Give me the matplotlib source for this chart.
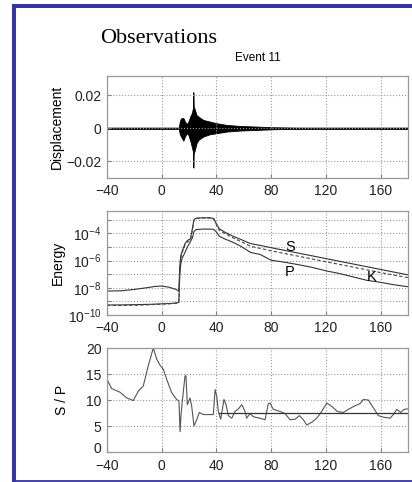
import matplotlib
matplotlib.use("Agg")
import matplotlib.pyplot as plt
import matplotlib.transforms as mtransforms
from matplotlib.lines import Line2D
import numpy as np

plt.rcParams['font.family'] = ['Liberation Sans', 'DejaVu Sans']
plt.rcParams['mathtext.default'] = 'regular'

# displacement trace, read as an envelope (time in s, upper / lower amplitude)
disp_t = [-40, 12.5, 13.2, 14, 15.8, 17, 18.2, 19.5, 21, 21.9, 22.8, 23.1, 23.4,
          23.9, 25.5, 27, 30.4, 35.3, 40.2, 47.5, 57.2, 69.4, 81.6, 100, 180]
disp_hi = [0.0004, 0.0004, 0.004, 0.0059, 0.0062, 0.004, 0.0025, 0.004, 0.0075, 0.0089,
           0.012, 0.0218, 0.013, 0.012, 0.0079, 0.0069, 0.005, 0.004, 0.003, 0.002,
           0.0014, 0.001, 0.0006, 0.0004, 0.0004]
disp_lo = [-0.0004, -0.0004, -0.0035, -0.0049, -0.0075, -0.005, -0.003, -0.004, -0.008,
           -0.011, -0.014, -0.0237, -0.015, -0.014, -0.0089, -0.0069, -0.005, -0.0036,
           -0.003, -0.002, -0.0014, -0.001, -0.0006, -0.0004, -0.0004]

# energy curves, log10 values
energy_t = [-40, -30, -20, -10, -5, 0, 5, 10, 12.5, 13.2, 14, 15, 17, 19, 21, 22.5, 23.5,
            25, 30, 35, 38, 40, 42, 46, 52, 58, 65, 72, 80, 90, 100, 110, 120, 130, 140,
            150, 160, 170, 180]
log_S = [-8.24, -8.22, -8.12, -7.98, -7.9, -7.87, -7.95, -8.1, -8.24, -6.4, -5.6, -5.3,
         -4.75, -4.5, -4.4, -3.6, -3.0, -2.88, -2.85, -2.85, -2.9, -3.3, -3.65, -3.9,
         -4.2, -4.45, -4.75, -4.88, -5.05, -5.25, -5.45, -5.65, -5.85, -6.05, -6.25,
         -6.45, -6.65, -6.85, -7.05]
log_K = [-9.3, -9.3, -9.28, -9.25, -9.22, -9.2, -9.18, -9.15, -9.1, -6.6, -5.8, -5.4,
         -4.85, -4.6, -4.5, -3.7, -3.05, -2.9, -2.86, -2.86, -2.95, -3.35, -3.75, -4.0,
         -4.32, -4.6, -4.95, -5.1, -5.28, -5.48, -5.68, -5.88, -6.08, -6.28, -6.48,
         -6.68, -6.88, -7.07, -7.25]
log_P = [-9.26, -9.26, -9.24, -9.22, -9.2, -9.18, -9.16, -9.12, -9.08, -7.0, -6.2, -5.8,
         -5.4, -4.95, -4.6, -4.3, -3.87, -3.72, -3.68, -3.68, -3.7, -3.9, -4.2, -4.4,
         -4.65, -4.95, -5.4, -5.55, -5.97, -6.12, -6.3, -6.5, -6.75, -6.95, -7.2, -7.45,
         -7.6, -7.78, -7.92]

# S / P ratio
sp_t = [-40, -36.6, -30.5, -25.6, -20.8, -17.1, -13.5, -9.8, -6.2, -3.7, -1.3, 1.2, 3.6,
        7.3, 10.9, 12.6, 13.4, 14.1, 15.3, 17, 17.7, 18.7, 20.7, 21.9, 23.6, 25.5, 27.5,
        30.4, 37.7, 39, 40.2, 41.4, 43.1, 45.5, 47, 48.7, 51.2, 53.6, 56, 58.5, 60.9,
        62.1, 64.5, 66.9, 68.2, 71.8, 75.5, 77.9, 79.1, 81.6, 86.5, 90.1, 93.8, 97.4,
        100.6, 103.5, 106, 109.6, 113.3, 116.9, 120.6, 124.2, 128.3, 132.7, 136.4, 141.3,
        144.9, 147.4, 151, 154.7, 158.3, 162, 166.9, 169.3, 171.8, 174.7, 177.1, 180]
sp_v = [14.0, 12.2, 11.5, 10.4, 9.9, 11.7, 12.7, 16.6, 20.0, 17.9, 16.7, 15.9, 14.0,
        11.4, 10.1, 9.8, 3.9, 7.2, 10.4, 14.6, 14.7, 9.1, 10.4, 8.8, 5.0, 6.2, 7.6,
        7.2, 7.2, 12.0, 10.7, 7.8, 6.3, 10.1, 9.1, 7.0, 6.5, 7.8, 8.3, 9.1, 7.8,
        6.5, 7.4, 6.8, 6.7, 6.5, 6.2, 9.3, 9.4, 8.2, 7.8, 7.4, 6.2, 6.3,
        7.0, 6.2, 5.2, 5.7, 6.5, 7.8, 9.4, 8.8, 7.8, 7.6, 8.2, 8.9,
        9.3, 10.1, 10.0, 8.5, 7.0, 6.7, 6.5, 7.2, 8.2, 7.6, 8.2, 8.3]
sp_mean_t = [42, 180]
sp_mean = 7.5

xticks = [-40, 0, 40, 80, 120, 160]

W, H = 412, 482
fig = plt.figure(figsize=(W / 100, H / 100), dpi=100)


def px_axes(top, bottom, left=107, right=408):
    return fig.add_axes([left / W, 1 - bottom / H, (right - left) / W, (bottom - top) / H])


def style(ax):
    ax.set_xlim(-40, 180)
    ax.set_xticks(xticks)
    ax.tick_params(direction='in', labelsize=10, length=3, colors='0.5',
                   labelcolor='#222222', pad=4)
    ax.grid(True, linestyle=':', color='0.6', linewidth=0.8)
    for s in ax.spines.values():
        s.set_color('0.6')
        s.set_linewidth(0.9)


# displacement
ax1 = px_axes(76, 178)
style(ax1)
ax1.fill_between(disp_t, disp_lo, disp_hi, color='black', linewidth=0.6, edgecolor='black')
ax1.set_ylim(-0.03, 0.0315)
ax1.set_yticks([-0.02, 0, 0.02])
ax1.set_yticklabels(['\u22120.02', '0', '0.02'])
ax1.set_ylabel('Displacement', fontsize=10, labelpad=2)
ax1.set_title('Event 11', fontsize=8.5, pad=11)

# energy
ax2 = px_axes(211, 315)
style(ax2)
ax2.set_yscale('log')
ax2.plot(energy_t, 10 ** np.array(log_S), color='#333333', lw=0.8)
ax2.plot(energy_t, 10 ** np.array(log_P), color='#333333', lw=0.8)
ax2.plot(energy_t, 10 ** np.array(log_K), color='#444444', lw=0.8, dashes=(3, 2))
ax2.set_ylim(1e-10, 10 ** -2.35)
ax2.set_yticks([10.0 ** e for e in range(-10, -2)])
ax2.set_yticklabels(['$10^{%d}$' % e if e % 2 == 0 else '' for e in range(-10, -2)])
ax2.minorticks_off()
ax2.set_ylabel('Energy', fontsize=10, labelpad=2)
ax2.text(93.8, 10 ** -4.98, 'S', fontsize=10.5, ha='center', va='center')
ax2.text(93.8, 10 ** -6.82, 'P', fontsize=10.5, ha='center', va='center')
ax2.text(153.5, 10 ** -7.18, 'K', fontsize=10.5, ha='center', va='center')

# S / P ratio
ax3 = px_axes(348, 452)
style(ax3)
ax3.plot(sp_t, sp_v, color='#555555', lw=0.8)
ax3.plot(sp_mean_t, [sp_mean] * len(sp_mean_t), color='#333333', lw=0.9)
ax3.set_ylim(0, 20)
ax3.set_yticks([0, 5, 10, 15, 20])
ax3.set_ylabel('S / P', fontsize=10, labelpad=12)
# lift the bottom "0" so it sits above the "-40" like in the original
fig.canvas.draw()
zero_lbl = ax3.get_yticklabels()[0]
zero_lbl.set_transform(zero_lbl.get_transform() +
                       mtransforms.ScaledTranslation(0, 3 / 72, fig.dpi_scale_trans))
ax3.tick_params(axis='x', pad=5)

fig.text(100 / W, 1 - 43 / H, 'Observations', fontsize=16, family='Liberation Serif',
         va='baseline', ha='left')

# blue frame
blue = '#3535a3'
fig.add_artist(Line2D([13.7 / W, 13.7 / W], [1 - 6.3 / H, 0], color=blue, lw=2.9,
                      transform=fig.transFigure, solid_capstyle='projecting'))
fig.add_artist(Line2D([13.7 / W, 1.02], [1 - 6.3 / H, 1 - 6.3 / H], color=blue, lw=2.9,
                      transform=fig.transFigure, solid_capstyle='projecting'))
fig.add_artist(Line2D([13.7 / W, 1.02], [1 - 480.5 / H, 1 - 480.5 / H], color=blue, lw=1.3,
                      transform=fig.transFigure))

fig.savefig('out.png', dpi=100)
